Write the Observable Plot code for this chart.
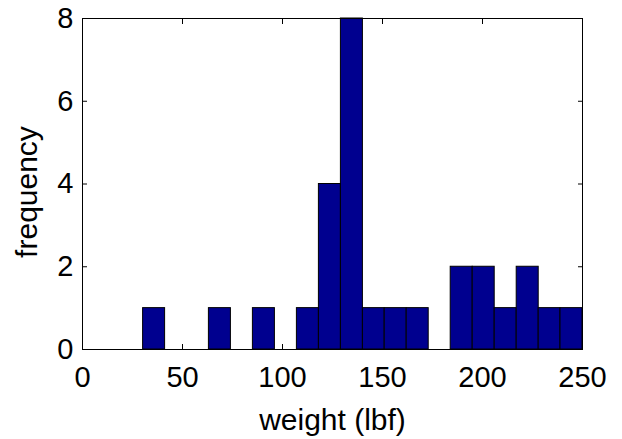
<!DOCTYPE html>
<html>
<head>
<meta charset="utf-8">
<script src="https://cdn.jsdelivr.net/npm/d3@7"></script>
<script src="https://cdn.jsdelivr.net/npm/@observablehq/plot@0.6"></script>
<style>
  html, body { margin: 0; padding: 0; background: #fff; }
  #chart { width: 622px; height: 439px; }
</style>
</head>
<body>
<div id="chart"></div>
<script>
// Histogram bin edges (lbf) and counts
const binEdges = [30.3, 41.3, 52.3, 63.2, 74.2, 85.2, 96.2, 107.2, 118.2, 129.2,
                  140.2, 151.1, 162.1, 173.1, 184.1, 195.1, 206.1, 217.1, 228.1, 239.0, 250.0];
const counts   = [1, 0, 0, 1, 0, 1, 0, 1, 4, 8,
                  1, 1, 1, 0, 2, 2, 1, 2, 1, 1];
const xTicks = [0, 50, 100, 150, 200, 250];
const yTicks = [0, 2, 4, 6, 8];
const xLabel = "weight (lbf)";
const yLabel = "frequency";

const bins = counts.map((c, i) => ({x1: binEdges[i], x2: binEdges[i + 1], count: c}));

const font = "'Liberation Sans', Arial, Helvetica, sans-serif";

const chart = Plot.plot({
  width: 622,
  height: 439,
  marginLeft: 82,
  marginRight: 40,
  marginTop: 18,
  marginBottom: 90,
  style: {fontFamily: font, fontSize: "29px", color: "#000", background: "#fff"},
  x: {domain: [0, 250], ticks: xTicks, label: null},
  y: {domain: [0, 8], ticks: yTicks, label: null},
  marks: [
    Plot.axisX(xTicks, {anchor: "bottom", tickSize: -5, tickPadding: 22, fontSize: 29, label: null}),
    Plot.axisX(xTicks, {anchor: "top", tickSize: -5, tickFormat: () => "", label: null}),
    Plot.axisY(yTicks, {anchor: "left", tickSize: -5, tickPadding: 14, fontSize: 29, label: null}),
    Plot.axisY(yTicks, {anchor: "right", tickSize: -5, tickFormat: () => "", label: null}),
    Plot.rectY(bins, {x1: "x1", x2: "x2", y: "count", fill: "#00008F", stroke: "#000", strokeWidth: 1, insetLeft: 0, insetRight: 0}),
    Plot.frame({stroke: "#000", strokeWidth: 1}),
    Plot.text([xLabel], {frameAnchor: "bottom", lineAnchor: "bottom", textAnchor: "middle", dy: 80, fontSize: 30, fill: "#000"}),
    Plot.text([yLabel], {frameAnchor: "left", lineAnchor: "bottom", textAnchor: "middle", rotate: -90, dx: -46, dy: 8, fontSize: 30, fill: "#000"})
  ]
});
document.getElementById("chart").appendChild(chart);
</script>
</body>
</html>
